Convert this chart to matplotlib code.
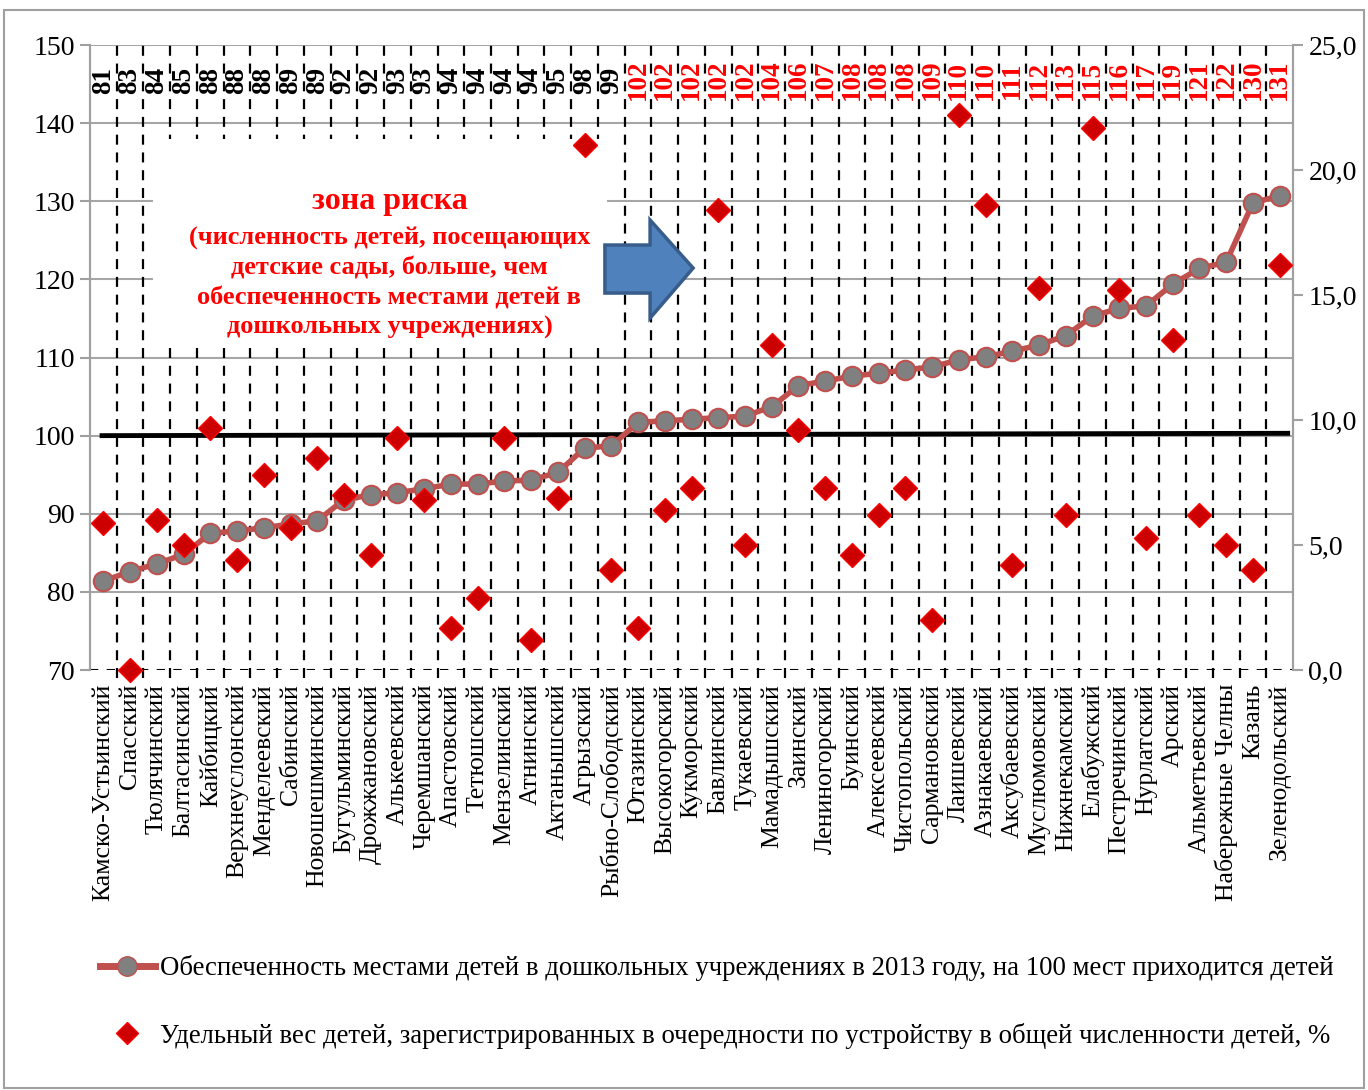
import numpy as np
import matplotlib.pyplot as plt
from matplotlib.patches import Rectangle, Polygon
from matplotlib.lines import Line2D
import matplotlib.transforms as mtransforms

plt.rcParams['font.family'] = ['Liberation Serif', 'DejaVu Serif']

districts = ["Камско-Устьинский", "Спасский", "Тюлячинский", "Балтасинский", "Кайбицкий",
             "Верхнеуслонский", "Менделеевский", "Сабинский", "Новошешминский", "Бугульминский",
             "Дрожжановский", "Алькеевский", "Черемшанский", "Апастовский", "Тетюшский",
             "Мензелинский", "Атнинский", "Актанышский", "Агрызский", "Рыбно-Слободский",
             "Ютазинский", "Высокогорский", "Кукморский", "Бавлинский", "Тукаевский",
             "Мамадышский", "Заинский", "Лениногорский", "Буинский", "Алексеевский",
             "Чистопольский", "Сармановский", "Лаишевский", "Азнакаевский", "Аксубаевский",
             "Муслюмовский", "Нижнекамский", "Елабужский", "Пестречинский", "Нурлатский",
             "Арский", "Альметьевский", "Набережные Челны", "Казань", "Зеленодольский"]

# детей на 100 мест (левая ось)
children_per_100 = [81.4, 82.6, 83.6, 84.8, 87.5, 87.8, 88.2, 88.7, 89.1, 91.8,
                    92.4, 92.7, 93.2, 93.8, 93.8, 94.2, 94.3, 95.3, 98.4, 98.7,
                    101.7, 101.9, 102.1, 102.3, 102.5, 103.7, 106.4, 107.0, 107.6, 108.0,
                    108.4, 108.8, 109.7, 110.1, 110.8, 111.6, 112.8, 115.3, 116.3, 116.6,
                    119.4, 121.4, 122.2, 129.8, 130.7]

top_labels = [81, 83, 84, 85, 88, 88, 88, 89, 89, 92, 92, 93, 93, 94, 94, 94, 94, 95, 98, 99,
              102, 102, 102, 102, 102, 104, 106, 107, 108, 108, 108, 109, 110, 110, 111, 112,
              113, 115, 116, 117, 119, 121, 122, 130, 131]

# удельный вес детей в очереди, % (правая ось)
queue_share = [5.9, 0.0, 6.0, 5.0, 9.7, 4.4, 7.8, 5.7, 8.5, 7.0,
               4.6, 9.3, 6.8, 1.7, 2.9, 9.3, 1.2, 6.9, 21.0, 4.0,
               1.7, 6.4, 7.3, 18.4, 5.0, 13.0, 9.6, 7.3, 4.6, 6.2,
               7.3, 2.0, 22.2, 18.6, 4.2, 15.3, 6.2, 21.7, 15.2, 5.3,
               13.2, 6.2, 5.0, 4.0, 16.2]

label_line = "Обеспеченность местами детей в дошкольных учреждениях в 2013 году, на 100 мест приходится детей"
label_dots = "Удельный вес детей, зарегистрированных в очередности по устройству в общей численности детей, %"
zone_title = "зона риска"
zone_text = "(численность детей, посещающих\nдетские сады, больше, чем\nобеспеченность местами детей в\nдошкольных учреждениях)"

n = len(districts)
x = np.arange(n)

fig = plt.figure(figsize=(13.68, 10.9), dpi=100)
fig.patches.append(Rectangle((0.003, 0.002), 0.994, 0.989, transform=fig.transFigure,
                             fill=False, edgecolor="#a0a0a0", linewidth=1.5))
ax = fig.add_axes([0.0658, 0.3853, 0.8794, 0.5734])
ax2 = ax.twinx()

ax.set_xlim(-0.5, n - 0.5)
ax.set_ylim(70, 150)
ax2.set_ylim(0, 25)

# горизонтальная сетка
for v in range(80, 151, 10):
    ax.axhline(v, color="#a6a6a6", linewidth=1.5, zorder=0)
# вертикальные пунктирные линии между районами
for b in np.arange(0.5, n - 0.5, 1):
    ax.plot([b, b], [69, 150], color="black", linewidth=1.6, linestyle=(0, (4.5, 3.5)),
            zorder=1, clip_on=False)
ax.plot([-0.5, n - 0.5], [70, 70], color="black", linewidth=1.5, linestyle=(0, (4, 4)),
        zorder=1)

# белая подложка под текст
ax.add_patch(Rectangle((1.85, 111.2), 17.0, 26.8, facecolor="white", edgecolor="none", zorder=2))

ax.plot([-0.05, n - 0.7], [100, 100.3], color="black", linewidth=3.5, zorder=3)

ax.plot(x, children_per_100, color="#C0504D", linewidth=4, marker="o", markersize=14,
        markerfacecolor="#808080", markeredgecolor="#C0504D", markeredgewidth=1.5, zorder=4)
ax2.plot(x, queue_share, linestyle="none", marker="D", markersize=12.5,
         markerfacecolor="#CC0000", markeredgecolor="#FF0000", markeredgewidth=1, zorder=5,
         clip_on=False)

# подписи сверху
trans = mtransforms.blended_transform_factory(ax.transData, ax.transAxes)
for i, v in enumerate(top_labels):
    ax.text(i, 0.944, str(v), transform=trans, rotation=90, ha="center", va="center",
            fontsize=19.5, fontweight="bold", color="black" if v < 100 else "#FF0000", zorder=6)

ax.text(10.7, 130.0, zone_title, ha="center", va="center", fontsize=23, fontweight="bold",
        color="#FF0000", zorder=6)
ax.text(10.7, 119.5, zone_text, ha="center", va="center", fontsize=19, fontweight="bold",
        color="#FF0000", linespacing=1.36, zorder=6)

arrow = Polygon([(18.76, 124.4), (20.45, 124.4), (20.45, 127.6), (22.06, 121.45),
                 (20.45, 115.05), (20.45, 118.25), (18.76, 118.25)], closed=True,
                facecolor="#4F81BD", edgecolor="#385D8A", linewidth=2.5, zorder=6)
ax.add_patch(arrow)

# оси
ax.set_yticks(range(70, 151, 10))
ax2.set_yticks(range(0, 26, 5))
ax2.set_yticklabels([f"{v},0" for v in range(0, 26, 5)])
ax.set_xticks(x)
ax.set_xticklabels(districts, rotation=90, fontsize=18.5, va="top", ha="center")
ax.tick_params(axis="x", length=0, pad=10)
ax.tick_params(axis="y", labelsize=20, color="#a0a0a0", length=7, width=1.5, pad=4)
ax2.tick_params(axis="y", labelsize=20, color="#a0a0a0", length=7, width=1.5, pad=4)
for a in (ax, ax2):
    a.spines["top"].set_visible(False)
    a.spines["bottom"].set_visible(False)
    a.spines["left"].set_color("#a0a0a0")
    a.spines["right"].set_color("#a0a0a0")
    a.spines["left"].set_linewidth(1.5)
    a.spines["right"].set_linewidth(1.5)

h1 = Line2D([], [], color="#C0504D", linewidth=5, marker="o", markersize=14,
            markerfacecolor="#808080", markeredgecolor="#C0504D")
h2 = Line2D([], [], linestyle="none", marker="D", markersize=11,
            markerfacecolor="#CC0000", markeredgecolor="#FF0000")
fig.legend([h1, h2], [label_line, label_dots], loc="upper left",
           bbox_to_anchor=(100 / 1368, 1 - 955 / 1090), borderpad=0, borderaxespad=0,
           frameon=False, fontsize=19.3, labelspacing=1.55, handlelength=2.05, handletextpad=0.2)

plt.savefig("out.png", dpi=100)
